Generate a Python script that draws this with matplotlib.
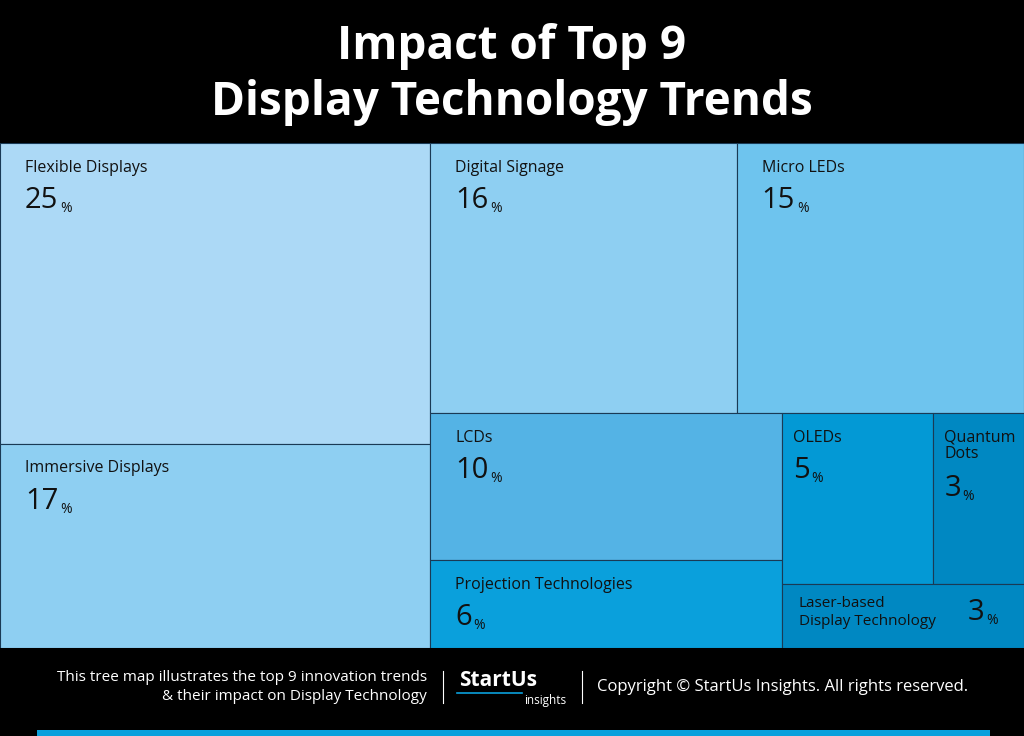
import matplotlib.pyplot as plt
from matplotlib.patches import Rectangle

plt.rcParams['font.family'] = ['Open Sans', 'DejaVu Sans']

labels = ["Flexible Displays", "Immersive Displays", "Digital Signage", "Micro LEDs",
          "LCDs", "Projection Technologies", "OLEDs", "Quantum\nDots",
          "Laser-based\nDisplay Technology"]
values = [25, 17, 16, 15, 10, 6, 5, 3, 3]
colors = ["#acd9f6", "#8ecff2", "#8ecff2", "#6ec4ee", "#54b3e5", "#0aa0dc",
          "#0399d5", "#0088c2", "#0088c2"]

W, H = 100.0, 100.0


def split(x, y, w, h, vals, horizontal):
    # slice a box into parts proportional to vals
    s = sum(vals)
    boxes = []
    pos = 0
    for v in vals:
        if horizontal:
            boxes.append((x + w * pos / s, y, w * v / s, h))
        else:
            boxes.append((x, y + h * pos / s, w, h * v / s))
        pos += v
    return boxes


v = values
left, right = split(0, 0, W, H, [v[0] + v[1], sum(v[2:])], True)
rects = split(*left, [v[0], v[1]], False)
top, bottom = split(*right, [v[2] + v[3], sum(v[4:])], False)
rects += split(*top, [v[2], v[3]], True)
bcol, bblock = split(*bottom, [v[4] + v[5], sum(v[6:])], True)
rects += split(*bcol, [v[4], v[5]], False)
btop, bbot = split(*bblock, [v[6] + v[7], v[8]], False)
rects += split(*btop, [v[6], v[7]], True)
rects.append(bbot)

fig = plt.figure(figsize=(10.24, 7.36), dpi=100)
fig.patch.set_facecolor("black")

ax = fig.add_axes([0, 88 / 736, 1, 505 / 736])
ax.set_xlim(0, W)
ax.set_ylim(H, 0)
ax.axis("off")

NUM = 21
PCT = 10


def number(x, y, dx, dy, val):
    ax.annotate(f"{val}", (x, y), xytext=(dx, dy), textcoords="offset points",
                fontsize=NUM, va="top", ha="left", color="#111111")
    off = 0.58 * NUM * len(str(val)) + 1
    ax.annotate("%", (x, y), xytext=(dx + off, dy - 11), textcoords="offset points",
                fontsize=PCT, va="top", ha="left", color="#111111")


for i, (x, y, w, h) in enumerate(rects):
    ax.add_patch(Rectangle((x, y), w, h, facecolor=colors[i], edgecolor="#1a3a55", lw=0.8))
    name = labels[i]
    if i == 8:
        ax.annotate(name, (x, y), xytext=(12, -9), textcoords="offset points",
                    fontsize=11, va="top", ha="left", color="#111111", linespacing=1.2)
        number(x, y, 134, -10, values[i])
        continue
    small = i in (6, 7)
    dx = 8 if small else 18
    ax.annotate(name, (x, y), xytext=(dx, -12), textcoords="offset points",
                fontsize=11.5, va="top", ha="left", color="#111111", linespacing=1.0)
    ny = -44 if i == 7 else -31
    number(x, y, dx, ny, values[i])

fig.text(0.5, 1 - 46 / 736, "Impact of Top 9", color="white", fontsize=33,
         fontweight="bold", ha="center", va="center")
fig.text(0.5, 1 - 102 / 736, "Display Technology Trends", color="white", fontsize=33,
         fontweight="bold", ha="center", va="center")

fy = 1 - 687 / 736
fig.text(427 / 1024, fy, "This tree map illustrates the top 9 innovation trends\n& their impact on Display Technology",
         color="white", fontsize=11, ha="right", va="center", linespacing=1.4)
fig.add_artist(plt.Line2D([443 / 1024] * 2, [fy - 0.022, fy + 0.022], color="white", lw=0.8))
fig.add_artist(plt.Line2D([582 / 1024] * 2, [fy - 0.022, fy + 0.022], color="white", lw=0.8))
fig.text(459 / 1024, fy + 0.009, "StartUs", color="white", fontsize=15, fontweight="bold",
         ha="left", va="center")
fig.text(566 / 1024, fy - 0.018, "insights", color="white", fontsize=8.5, ha="right", va="center")
fig.add_artist(plt.Line2D([457 / 1024, 522 / 1024], [fy - 0.008] * 2, color="#0aa0dc", lw=1.2))
fig.text(597 / 1024, fy, "Copyright © StartUs Insights. All rights reserved.", color="white",
         fontsize=12, ha="left", va="center")
fig.add_artist(Rectangle((37 / 1024, 0), 953 / 1024, 6 / 736, transform=fig.transFigure,
                         facecolor="#0aa0dc", edgecolor="none"))

fig.savefig("out.png", dpi=100, facecolor="black")
